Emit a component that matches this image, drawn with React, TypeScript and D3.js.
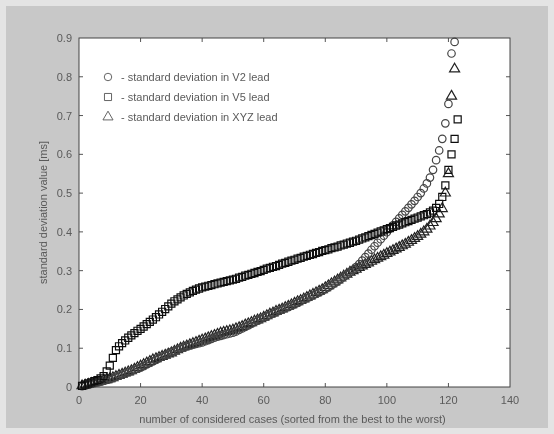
import React, { useRef, useEffect } from "react";
import * as d3 from "d3";

// standard deviation values, sorted from best to worst case
const v2Lead = [
  0.002, 0.004, 0.006, 0.008, 0.01, 0.012, 0.014, 0.016, 0.018, 0.02,
  0.023, 0.026, 0.029, 0.032, 0.035, 0.038, 0.041, 0.044, 0.047, 0.05,
  0.054, 0.058, 0.062, 0.066, 0.07, 0.074, 0.078, 0.082, 0.086, 0.09,
  0.093, 0.096, 0.099, 0.102, 0.105, 0.107, 0.109, 0.111, 0.113, 0.115,
  0.118, 0.121, 0.124, 0.127, 0.13, 0.132, 0.134, 0.136, 0.138, 0.14,
  0.143, 0.147, 0.151, 0.155, 0.159, 0.163, 0.167, 0.171, 0.175, 0.179,
  0.182, 0.186, 0.189, 0.193, 0.196, 0.2, 0.203, 0.206, 0.21, 0.213,
  0.217, 0.221, 0.225, 0.229, 0.232, 0.236, 0.24, 0.244, 0.248, 0.252,
  0.257, 0.262, 0.267, 0.272, 0.278, 0.284, 0.29, 0.296, 0.302, 0.309,
  0.317, 0.326, 0.335, 0.344, 0.354, 0.363, 0.372, 0.381, 0.39, 0.399,
  0.408, 0.417, 0.426, 0.435, 0.444, 0.453, 0.462, 0.471, 0.48, 0.49,
  0.5, 0.512, 0.525, 0.54, 0.56, 0.585, 0.61, 0.64, 0.68, 0.73, 0.86, 0.89,
];

const v5Lead = [
  0.003, 0.006, 0.009, 0.012, 0.015, 0.018, 0.022, 0.028, 0.04, 0.055,
  0.075, 0.095, 0.105, 0.113, 0.12, 0.127, 0.133, 0.139, 0.145, 0.15,
  0.156, 0.162, 0.168, 0.174, 0.18, 0.187, 0.194, 0.201, 0.208, 0.215,
  0.221, 0.226, 0.231, 0.236, 0.24, 0.244, 0.248, 0.251, 0.254, 0.257,
  0.259, 0.261, 0.263, 0.265, 0.267, 0.269, 0.271, 0.273, 0.275, 0.277,
  0.279, 0.282, 0.284, 0.287, 0.289, 0.292, 0.294, 0.297, 0.299, 0.302,
  0.305, 0.307, 0.31, 0.312, 0.315, 0.318, 0.32, 0.323, 0.326, 0.328,
  0.331, 0.333, 0.336, 0.338, 0.341, 0.343, 0.346, 0.348, 0.351, 0.353,
  0.355, 0.358, 0.36, 0.362, 0.365, 0.367, 0.37, 0.372, 0.375, 0.377,
  0.38, 0.383, 0.386, 0.389, 0.392, 0.395, 0.398, 0.401, 0.404, 0.407,
  0.41, 0.413, 0.416, 0.419, 0.422, 0.425, 0.428, 0.431, 0.434, 0.437,
  0.44, 0.443, 0.446, 0.45, 0.455, 0.462, 0.472, 0.49, 0.52, 0.56,
  0.6, 0.64, 0.69,
];

const xyzLead = [
  0.003, 0.005, 0.007, 0.009, 0.011, 0.013, 0.015, 0.017, 0.019, 0.021,
  0.024, 0.027, 0.03, 0.033, 0.036, 0.039, 0.042, 0.046, 0.05, 0.054,
  0.058, 0.062, 0.066, 0.07, 0.073, 0.076, 0.079, 0.082, 0.085, 0.088,
  0.092, 0.096, 0.1, 0.103, 0.106, 0.109, 0.112, 0.115, 0.118, 0.121,
  0.124, 0.127, 0.13, 0.133, 0.136, 0.139, 0.141, 0.143, 0.145, 0.147,
  0.15, 0.153, 0.156, 0.16, 0.163, 0.166, 0.17, 0.173, 0.176, 0.18,
  0.184, 0.188, 0.191, 0.195, 0.198, 0.201, 0.205, 0.208, 0.212, 0.216,
  0.22, 0.223, 0.227, 0.231, 0.235, 0.239, 0.243, 0.247, 0.251, 0.256,
  0.261, 0.266, 0.271, 0.276, 0.281, 0.286, 0.291, 0.296, 0.3, 0.304,
  0.308, 0.312, 0.316, 0.32, 0.324, 0.328, 0.332, 0.336, 0.34, 0.344,
  0.348, 0.352, 0.356, 0.36, 0.364, 0.368, 0.373, 0.378, 0.383, 0.388,
  0.394, 0.4, 0.407, 0.415, 0.424, 0.434, 0.446, 0.46, 0.5, 0.55, 0.75, 0.82,
];

const xTicks = [0, 20, 40, 60, 80, 100, 120, 140];
const yTicks = [0, 0.1, 0.2, 0.3, 0.4, 0.5, 0.6, 0.7, 0.8, 0.9];
const legendLabels = [
  "- standard deviation in V2 lead",
  "- standard deviation in V5 lead",
  "- standard deviation in XYZ lead",
];

const App = () => {
  const svgRef = useRef(null);

  useEffect(() => {
    const width = 554;
    const height = 434;
    const margin = { top: 38, right: 44, bottom: 47, left: 79 };
    const font = "Liberation Sans, Arial, sans-serif";
    const textColor = "#5a5a5a";

    const svg = d3.select(svgRef.current);
    svg.selectAll("*").remove();
    svg.attr("width", width).attr("height", height);

    svg.append("defs")
      .append("filter")
      .attr("id", "soft")
      .append("feGaussianBlur")
      .attr("stdDeviation", 0.5);

    svg.append("rect").attr("width", width).attr("height", height).attr("fill", "#e4e4e4");
    svg.append("rect")
      .attr("x", 6).attr("y", 6)
      .attr("width", 542).attr("height", 422)
      .attr("fill", "#c8c8c8");

    const x = d3.scaleLinear().domain([0, 140]).range([margin.left, width - margin.right]);
    const y = d3.scaleLinear().domain([0, 0.9]).range([height - margin.bottom, margin.top]);

    const g = svg.append("g").attr("filter", "url(#soft)");

    g.append("rect")
      .attr("x", x(0)).attr("y", y(0.9))
      .attr("width", x(140) - x(0)).attr("height", y(0) - y(0.9))
      .attr("fill", "white");

    // inward ticks on all four sides
    const tickLen = 4;
    const tickStyle = (sel) => sel.attr("stroke", "#555").attr("stroke-width", 1);
    xTicks.slice(1, -1).forEach((t) => {
      tickStyle(g.append("line").attr("x1", x(t)).attr("x2", x(t)).attr("y1", y(0)).attr("y2", y(0) - tickLen));
      tickStyle(g.append("line").attr("x1", x(t)).attr("x2", x(t)).attr("y1", y(0.9)).attr("y2", y(0.9) + tickLen));
    });
    yTicks.slice(1, -1).forEach((t) => {
      tickStyle(g.append("line").attr("x1", x(0)).attr("x2", x(0) + tickLen).attr("y1", y(t)).attr("y2", y(t)));
      tickStyle(g.append("line").attr("x1", x(140)).attr("x2", x(140) - tickLen).attr("y1", y(t)).attr("y2", y(t)));
    });

    g.append("rect")
      .attr("x", x(0)).attr("y", y(0.9))
      .attr("width", x(140) - x(0)).attr("height", y(0) - y(0.9))
      .attr("fill", "none").attr("stroke", "#444").attr("stroke-width", 1);

    g.selectAll(".xt")
      .data(xTicks)
      .enter()
      .append("text")
      .attr("x", (d) => x(d))
      .attr("y", y(0) + 17)
      .attr("text-anchor", "middle")
      .attr("font-family", font)
      .attr("font-size", 11)
      .attr("fill", textColor)
      .text((d) => d);

    g.selectAll(".yt")
      .data(yTicks)
      .enter()
      .append("text")
      .attr("x", x(0) - 7)
      .attr("y", (d) => y(d) + 4)
      .attr("text-anchor", "end")
      .attr("font-family", font)
      .attr("font-size", 11)
      .attr("fill", textColor)
      .text((d) => (d === 0 ? "0" : d3.format(".1f")(d)));

    g.append("text")
      .attr("x", (x(0) + x(140)) / 2 - 2)
      .attr("y", 423)
      .attr("text-anchor", "middle")
      .attr("font-family", font)
      .attr("font-size", 11)
      .attr("fill", textColor)
      .text("number of considered cases (sorted from the best to the worst)");

    g.append("text")
      .attr("transform", `translate(47, ${(y(0) + y(0.9)) / 2}) rotate(-90)`)
      .attr("text-anchor", "middle")
      .attr("font-family", font)
      .attr("font-size", 11)
      .attr("fill", textColor)
      .text("standard deviation value [ms]");

    const circle = d3.symbol().type(d3.symbolCircle).size(44);
    const square = d3.symbol().type(d3.symbolSquare).size(50);
    const triangle = d3.symbol().type(d3.symbolTriangle).size(44);

    const series = [
      { values: xyzLead, shape: triangle, color: "#222" },
      { values: v2Lead, shape: circle, color: "#444" },
      { values: v5Lead, shape: square, color: "#111" },
    ];

    series.forEach((s) => {
      g.append("g")
        .selectAll("path")
        .data(s.values)
        .enter()
        .append("path")
        .attr("d", s.shape)
        .attr("transform", (d, i) => `translate(${x(i + 1)},${y(d)})`)
        .attr("fill", "none")
        .attr("stroke", s.color)
        .attr("stroke-width", 1.2);
    });

    // legend
    const legendShapes = [circle, square, triangle];
    legendLabels.forEach((label, i) => {
      const ly = 77 + i * 20;
      g.append("path")
        .attr("d", legendShapes[i])
        .attr("transform", `translate(108,${ly})`)
        .attr("fill", "none")
        .attr("stroke", "#555")
        .attr("stroke-width", 0.9);
      g.append("text")
        .attr("x", 121)
        .attr("y", ly + 4)
        .attr("font-family", font)
        .attr("font-size", 11)
        .attr("fill", textColor)
        .text(label);
    });
  }, []);

  return (
    <svg ref={svgRef} style={{ position: "absolute", left: 0, top: 0 }}></svg>
  );
};

export default App;
